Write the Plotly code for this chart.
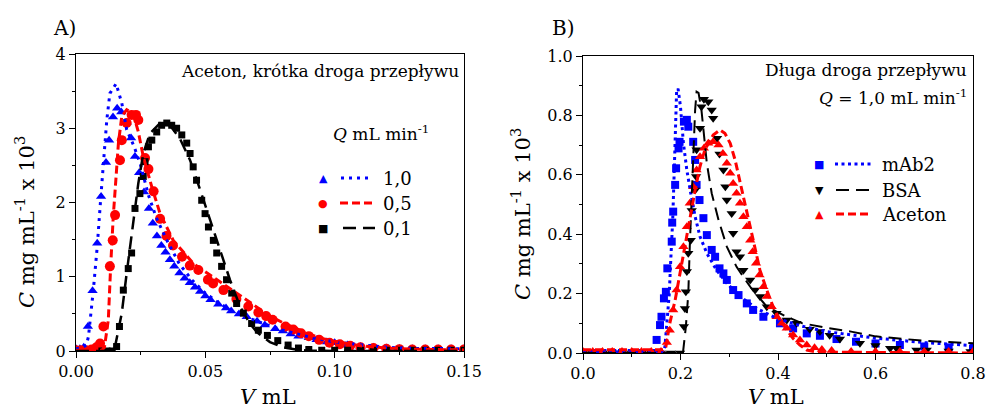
import plotly.graph_objects as go

FONT_FAMILY = "DejaVu Serif, Liberation Serif, serif"
BLUE = "#0000ff"
RED = "#ff0000"
BLACK = "#000000"

# ---- Panel A: Aceton, short flow path (x in mL, y in mg/mL x 10^3) ----
a_q10_x = [0.0, 0.0015, 0.003, 0.0046, 0.0064, 0.0082, 0.0097, 0.0116, 0.0128, 0.0143, 0.0159,
           0.0175, 0.0196, 0.0213, 0.0228, 0.0244, 0.0263, 0.0282, 0.0297, 0.0313, 0.033, 0.0346,
           0.0363, 0.038, 0.040, 0.042, 0.044, 0.046, 0.048, 0.050, 0.052, 0.055, 0.058, 0.060,
           0.063, 0.066, 0.070, 0.073, 0.077, 0.080, 0.083, 0.086, 0.090, 0.093, 0.097, 0.100,
           0.105, 0.110, 0.115, 0.120, 0.125, 0.130, 0.135, 0.140, 0.145, 0.150]
a_q10_y = [0.03, 0.03, 0.05, 0.33, 0.81, 1.45, 2.08, 2.54, 2.84, 3.15, 3.27,
           3.22, 3.08, 2.87, 2.62, 2.40, 2.14, 1.92, 1.72, 1.55, 1.42, 1.33,
           1.23, 1.14, 1.05, 0.98, 0.92, 0.86, 0.80, 0.74, 0.69, 0.63, 0.58, 0.54,
           0.50, 0.46, 0.40, 0.35, 0.30, 0.27, 0.23, 0.20, 0.18, 0.15, 0.12, 0.11,
           0.08, 0.06, 0.05, 0.04, 0.035, 0.03, 0.03, 0.03, 0.03, 0.03]
a_q10_fit_x = [0.0, 0.002, 0.004, 0.0048, 0.0067, 0.0082, 0.0095, 0.0106, 0.0119, 0.0131, 0.0155,
               0.0177, 0.0196, 0.0225, 0.025, 0.028, 0.031, 0.035, 0.040, 0.045, 0.050, 0.055,
               0.060, 0.065, 0.070, 0.080, 0.090, 0.100, 0.110, 0.120, 0.130, 0.140, 0.150]
a_q10_fit_y = [0.03, 0.04, 0.08, 0.19, 0.82, 1.40, 2.03, 2.57, 3.11, 3.47, 3.60,
               3.34, 2.98, 2.75, 2.50, 2.10, 1.80, 1.50, 1.17, 0.95, 0.78, 0.65,
               0.55, 0.47, 0.40, 0.28, 0.19, 0.12, 0.08, 0.05, 0.035, 0.03, 0.03]

a_q05_x = [0.0, 0.002, 0.004, 0.006, 0.0079, 0.0093, 0.0106, 0.0131, 0.0142, 0.0151, 0.0170,
           0.0177, 0.0196, 0.0215, 0.0232, 0.0241, 0.0267, 0.028, 0.030, 0.0325, 0.035, 0.0375,
           0.041, 0.044, 0.0473, 0.051, 0.053, 0.057, 0.062, 0.0666, 0.0705, 0.0735, 0.076,
           0.081, 0.084, 0.087, 0.090, 0.094, 0.098, 0.102, 0.106, 0.110, 0.115, 0.120,
           0.125, 0.130, 0.135, 0.140, 0.145, 0.150]
a_q05_y = [0.01, 0.01, 0.01, 0.02, 0.05, 0.10, 0.33, 1.14, 1.49, 1.83, 2.57,
           2.84, 3.07, 3.18, 3.18, 3.11, 2.60, 2.45, 2.15, 1.78, 1.55, 1.42,
           1.27, 1.15, 1.09, 0.96, 0.91, 0.82, 0.70, 0.60, 0.52, 0.47, 0.42,
           0.33, 0.29, 0.24, 0.20, 0.15, 0.11, 0.09, 0.07, 0.05, 0.04, 0.03,
           0.025, 0.02, 0.02, 0.02, 0.02, 0.02]
a_q05_fit_x = [0.0, 0.010, 0.011, 0.0125, 0.0134, 0.0144, 0.0155, 0.0164, 0.0177, 0.0196, 0.0221,
               0.0241, 0.026, 0.0293, 0.0325, 0.0376, 0.0453, 0.0544, 0.060, 0.065, 0.070, 0.075,
               0.080, 0.085, 0.090, 0.095, 0.100, 0.110, 0.120, 0.130, 0.150]
a_q05_fit_y = [0.01, 0.01, 0.05, 0.42, 1.14, 1.81, 2.35, 2.80, 3.16, 3.25, 3.20,
               2.95, 2.62, 2.21, 1.85, 1.49, 1.18, 0.96, 0.83, 0.70, 0.58, 0.47,
               0.38, 0.30, 0.23, 0.17, 0.13, 0.07, 0.04, 0.025, 0.015]

a_q01_x = [0.010, 0.012, 0.014, 0.0157, 0.0168, 0.0183, 0.0202, 0.0215, 0.0228, 0.0247, 0.026,
           0.0267, 0.028, 0.0293, 0.0312, 0.0331, 0.0351, 0.037, 0.0389, 0.0409, 0.0428, 0.0441,
           0.0453, 0.0466, 0.0486, 0.0499, 0.0512, 0.0531, 0.0544, 0.0563, 0.0582, 0.0602,
           0.0621, 0.0647, 0.0679, 0.0705, 0.074, 0.078, 0.082, 0.086, 0.090, 0.095, 0.100,
           0.105, 0.110, 0.115, 0.120, 0.125, 0.130, 0.135, 0.140, 0.145, 0.150]
a_q01_y = [0.0, 0.0, 0.0, 0.06, 0.33, 0.82, 1.11, 1.32, 1.92, 2.12, 2.35,
           2.55, 2.75, 2.84, 2.95, 3.04, 3.07, 3.04, 3.00, 2.91, 2.80, 2.66,
           2.48, 2.30, 2.03, 1.85, 1.67, 1.49, 1.32, 1.14, 0.96, 0.78,
           0.64, 0.51, 0.37, 0.28, 0.21, 0.14, 0.08, 0.04, 0.02, 0.01, 0.01,
           0.01, 0.01, 0.01, 0.01, 0.01, 0.01, 0.01, 0.01, 0.01, 0.01]
a_q01_fit_x = [0.0, 0.014, 0.0151, 0.0177, 0.0196, 0.0221, 0.0241, 0.026, 0.0286, 0.0325, 0.0363,
               0.0402, 0.0441, 0.048, 0.0518, 0.0557, 0.0595, 0.0634, 0.067, 0.070, 0.075,
               0.080, 0.085, 0.090, 0.100, 0.150]
a_q01_fit_y = [0.0, 0.0, 0.06, 0.51, 1.05, 1.76, 2.26, 2.66, 2.93, 3.07, 3.04,
               2.86, 2.57, 2.17, 1.76, 1.36, 0.96, 0.60, 0.38, 0.25, 0.12,
               0.05, 0.02, 0.005, 0.0, 0.0]

# ---- Panel B: long flow path, Q = 1,0 mL/min ----
b_mab2_x = [0.0, 0.02, 0.04, 0.06, 0.08, 0.10, 0.12, 0.14, 0.151, 0.158, 0.161, 0.166, 0.170,
            0.173, 0.182, 0.183, 0.185, 0.189, 0.191, 0.196, 0.198, 0.207, 0.213, 0.216, 0.226,
            0.230, 0.233, 0.239, 0.247, 0.254, 0.264, 0.271, 0.280, 0.288, 0.295, 0.308, 0.319,
            0.336, 0.349, 0.370, 0.404, 0.431, 0.459, 0.486, 0.520, 0.560, 0.600, 0.650, 0.700,
            0.750, 0.800]
b_mab2_y = [0.0, 0.0, 0.0, 0.0, 0.0, 0.0, 0.0, 0.0, 0.044, 0.094, 0.122, 0.184, 0.206,
            0.285, 0.375, 0.439, 0.476, 0.566, 0.622, 0.689, 0.711, 0.779, 0.785, 0.762, 0.711,
            0.650, 0.566, 0.515, 0.454, 0.397, 0.347, 0.324, 0.285, 0.268, 0.246, 0.212, 0.195,
            0.167, 0.145, 0.122, 0.100, 0.083, 0.066, 0.058, 0.047, 0.038, 0.032, 0.027, 0.022,
            0.019, 0.015]
b_mab2_fit_x = [0.0, 0.165, 0.168, 0.173, 0.177, 0.180, 0.184, 0.187, 0.190, 0.192, 0.195,
                0.200, 0.206, 0.213, 0.221, 0.230, 0.240, 0.254, 0.274, 0.295, 0.322, 0.356,
                0.397, 0.450, 0.500, 0.550, 0.600, 0.700, 0.800]
b_mab2_fit_y = [0.003, 0.003, 0.021, 0.111, 0.200, 0.313, 0.448, 0.605, 0.762, 0.880, 0.890,
                0.829, 0.706, 0.616, 0.538, 0.459, 0.392, 0.336, 0.279, 0.235, 0.190, 0.150,
                0.117, 0.090, 0.072, 0.060, 0.050, 0.035, 0.025]

b_bsa_x = [0.0, 0.02, 0.04, 0.06, 0.08, 0.10, 0.12, 0.14, 0.16, 0.18, 0.199, 0.207, 0.209,
           0.211, 0.213, 0.216, 0.221, 0.223, 0.230, 0.232, 0.233, 0.240, 0.243, 0.248, 0.257,
           0.264, 0.267, 0.275, 0.280, 0.288, 0.292, 0.295, 0.305, 0.308, 0.315, 0.322, 0.329,
           0.343, 0.353, 0.363, 0.377, 0.397, 0.418, 0.438, 0.465, 0.486, 0.506, 0.527, 0.568,
           0.600, 0.630, 0.643, 0.684, 0.705, 0.750, 0.795]
b_bsa_y = [0.0, 0.0, 0.0, 0.0, 0.0, 0.0, 0.0, 0.0, 0.0, 0.0, 0.0, 0.089, 0.150,
           0.206, 0.274, 0.336, 0.380, 0.480, 0.549, 0.594, 0.684, 0.757, 0.829, 0.854, 0.846,
           0.818, 0.790, 0.723, 0.670, 0.616, 0.560, 0.515, 0.470, 0.403, 0.341, 0.324, 0.279,
           0.246, 0.212, 0.190, 0.156, 0.134, 0.111, 0.100, 0.080, 0.072, 0.060, 0.047, 0.033,
           0.025, 0.016, 0.016, 0.010, 0.010, 0.007, 0.005]
b_bsa_fit_x = [0.0, 0.205, 0.211, 0.216, 0.219, 0.223, 0.226, 0.230, 0.233, 0.237, 0.243,
               0.248, 0.254, 0.264, 0.278, 0.295, 0.315, 0.343, 0.377, 0.418, 0.450, 0.500,
               0.550, 0.600, 0.650, 0.700, 0.750, 0.800]
b_bsa_fit_y = [0.0, 0.0, 0.089, 0.200, 0.358, 0.515, 0.672, 0.818, 0.880, 0.876, 0.818,
               0.728, 0.639, 0.538, 0.448, 0.358, 0.290, 0.223, 0.156, 0.122, 0.100, 0.085,
               0.072, 0.056, 0.048, 0.041, 0.037, 0.033]

b_ace_x = [0.0, 0.02, 0.04, 0.06, 0.08, 0.10, 0.12, 0.14, 0.16, 0.172, 0.178, 0.185, 0.192,
           0.199, 0.206, 0.213, 0.219, 0.226, 0.233, 0.240, 0.248, 0.257, 0.267, 0.278, 0.287,
           0.295, 0.302, 0.308, 0.315, 0.322, 0.329, 0.336, 0.343, 0.348, 0.355, 0.362, 0.370,
           0.377, 0.387, 0.397, 0.408, 0.418, 0.431, 0.445, 0.459, 0.475, 0.490, 0.510, 0.550,
           0.600, 0.650, 0.700, 0.750, 0.800]
b_ace_y = [0.005, 0.005, 0.005, 0.005, 0.005, 0.005, 0.005, 0.005, 0.005, 0.035, 0.077, 0.145, 0.212,
           0.290, 0.358, 0.425, 0.504, 0.560, 0.616, 0.661, 0.689, 0.706, 0.711, 0.700, 0.672,
           0.639, 0.605, 0.571, 0.538, 0.504, 0.459, 0.425, 0.380, 0.341, 0.302, 0.263, 0.223,
           0.190, 0.156, 0.122, 0.100, 0.083, 0.061, 0.044, 0.027, 0.018, 0.012, 0.008, 0.005,
           0.005, 0.005, 0.005, 0.005, 0.005]
b_ace_fit_x = [0.0, 0.165, 0.170, 0.178, 0.189, 0.199, 0.209, 0.219, 0.230, 0.240, 0.250,
               0.267, 0.281, 0.291, 0.302, 0.312, 0.322, 0.332, 0.343, 0.353, 0.363, 0.377,
               0.390, 0.404, 0.418, 0.431, 0.445, 0.459, 0.480, 0.800]
b_ace_fit_y = [0.011, 0.011, 0.021, 0.100, 0.178, 0.268, 0.358, 0.459, 0.549, 0.628, 0.684,
               0.734, 0.751, 0.740, 0.706, 0.650, 0.582, 0.504, 0.425, 0.347, 0.279, 0.212,
               0.156, 0.111, 0.077, 0.049, 0.027, 0.010, 0.003, 0.0]

FIG_W, FIG_H = 987, 412


def px_x(px):
    return px / FIG_W


def px_y(py):
    return 1 - py / FIG_H


def _axis(rng, dtick, fmt, domain, anchor):
    return dict(
        range=rng,
        domain=domain,
        anchor=anchor,
        dtick=dtick,
        tickformat=fmt,
        showgrid=False,
        zeroline=False,
        showline=True,
        linecolor="black",
        linewidth=1,
        mirror=True,
        ticks="outside",
        ticklen=6,
        tickwidth=1,
        tickcolor="black",
        minor=dict(ticks="outside", ticklen=3, tickwidth=1, tickcolor="black", dtick=dtick / 2),
        tickfont=dict(family=FONT_FAMILY, size=16, color="black"),
        automargin=False,
    )


def _markers(x, y, color, symbol, size, xa, ya):
    return go.Scatter(x=x, y=y, mode="markers", xaxis=xa, yaxis=ya, showlegend=False,
                      marker=dict(color=color, symbol=symbol, size=size, line=dict(width=0)))


def _line(x, y, color, dash, width, xa, ya):
    return go.Scatter(x=x, y=y, mode="lines", xaxis=xa, yaxis=ya, showlegend=False,
                      line=dict(color=color, dash=dash, width=width))


DOT_A = "3px,5px"
DOT_B = "3px,3.5px"
STYLE_DASH = "8px,4px"
STYLE_LONG = "13px,7px"

fig = go.Figure()
fig.add_trace(_markers(a_q10_x, a_q10_y, BLUE, "triangle-up", 9, "x", "y"))
fig.add_trace(_markers(a_q05_x, a_q05_y, RED, "circle", 10, "x", "y"))
fig.add_trace(_markers(a_q01_x, a_q01_y, BLACK, "square", 7, "x", "y"))
fig.add_trace(_line(a_q10_fit_x, a_q10_fit_y, BLUE, DOT_A, 3, "x", "y"))
fig.add_trace(_line(a_q05_fit_x, a_q05_fit_y, RED, STYLE_DASH, 3, "x", "y"))
fig.add_trace(_line(a_q01_fit_x, a_q01_fit_y, BLACK, STYLE_LONG, 2.5, "x", "y"))

fig.add_trace(_markers(b_mab2_x, b_mab2_y, BLUE, "square", 8, "x2", "y2"))
fig.add_trace(_markers(b_bsa_x, b_bsa_y, BLACK, "triangle-down", 9, "x2", "y2"))
fig.add_trace(_markers(b_ace_x, b_ace_y, RED, "triangle-up", 9, "x2", "y2"))
fig.add_trace(_line(b_mab2_fit_x, b_mab2_fit_y, BLUE, DOT_B, 3, "x2", "y2"))
fig.add_trace(_line(b_bsa_fit_x, b_bsa_fit_y, BLACK, STYLE_LONG, 2, "x2", "y2"))
fig.add_trace(_line(b_ace_fit_x, b_ace_fit_y, RED, STYLE_DASH, 3, "x2", "y2"))

ann = []
shapes = []


def text(x, y, s, size=16, xanchor="left", color="black", angle=0):
    ann.append(dict(text=s, x=px_x(x), y=px_y(y), xref="paper", yref="paper",
                    xanchor=xanchor, yanchor="middle", showarrow=False, textangle=angle,
                    font=dict(family=FONT_FAMILY, size=size, color=color)))


def legend_row(x_sym, x0, x1, x_txt, y, glyph, color, dash, width, label):
    text(x_sym, y, glyph, size=11, xanchor="center", color=color)
    shapes.append(dict(type="line", xref="paper", yref="paper",
                       x0=px_x(x0), x1=px_x(x1), y0=px_y(y), y1=px_y(y),
                       line=dict(color=color, dash=dash, width=width)))
    text(x_txt, y, label, size=18)


# panel letters and inner titles
text(51, 28, "A)", size=20)
text(550, 28, "B)", size=20)
text(461, 71, "Aceton, krótka droga przepływu", size=17, xanchor="right")
text(969, 70, "Długa droga przepływu", size=17, xanchor="right")
text(969, 97, "<i>Q</i> = 1,0 mL min<sup>-1</sup>", size=17, xanchor="right")

# legend A
text(331, 133, "<i>Q</i> mL min<sup>-1</sup>", size=17)
legend_row(323, 341, 373, 381, 178, "▲", BLUE, DOT_A, 3, "1,0")
legend_row(323, 340, 373, 381, 203, "●", RED, STYLE_DASH, 3, "0,5")
legend_row(323, 343, 375, 381, 228, "■", BLACK, STYLE_LONG, 2.5, "0,1")

# legend B
legend_row(819, 835, 873, 880, 164, "■", BLUE, DOT_B, 3, "mAb2")
legend_row(819, 836, 870, 880, 190, "▼", BLACK, STYLE_LONG, 2, "BSA")
legend_row(819, 836, 872, 880, 214, "▲", RED, STYLE_DASH, 3, "Aceton")

# axis titles
text(268, 397, "<i>V</i> mL", size=21, xanchor="center")
text(776, 397, "<i>V</i> mL", size=21, xanchor="center")
text(25, 222, "<i>C</i> mg mL<sup>-1</sup> x 10<sup>3</sup>", size=21, xanchor="center", angle=-90)
text(521, 214, "<i>C</i> mg mL<sup>-1</sup> x 10<sup>3</sup>", size=21, xanchor="center", angle=-90)

fig.update_layout(
    width=FIG_W,
    height=FIG_H,
    margin=dict(l=0, r=0, t=0, b=0),
    paper_bgcolor="white",
    plot_bgcolor="white",
    font=dict(family=FONT_FAMILY, color="black", size=16),
    showlegend=False,
    xaxis=_axis([0, 0.15], 0.05, ".2f", [px_x(76), px_x(464)], "y"),
    yaxis=_axis([0, 4], 1, "d", [px_y(351), px_y(54)], "x"),
    xaxis2=_axis([0, 0.8], 0.2, ".1f", [px_x(583), px_x(973)], "y2"),
    yaxis2=_axis([0, 1.0], 0.2, ".1f", [px_y(353), px_y(56)], "x2"),
    annotations=ann,
    shapes=shapes,
)

fig.write_html(
    "out.html",
    config={"displayModeBar": False},
    post_script="document.body.style.margin='0';",
)
